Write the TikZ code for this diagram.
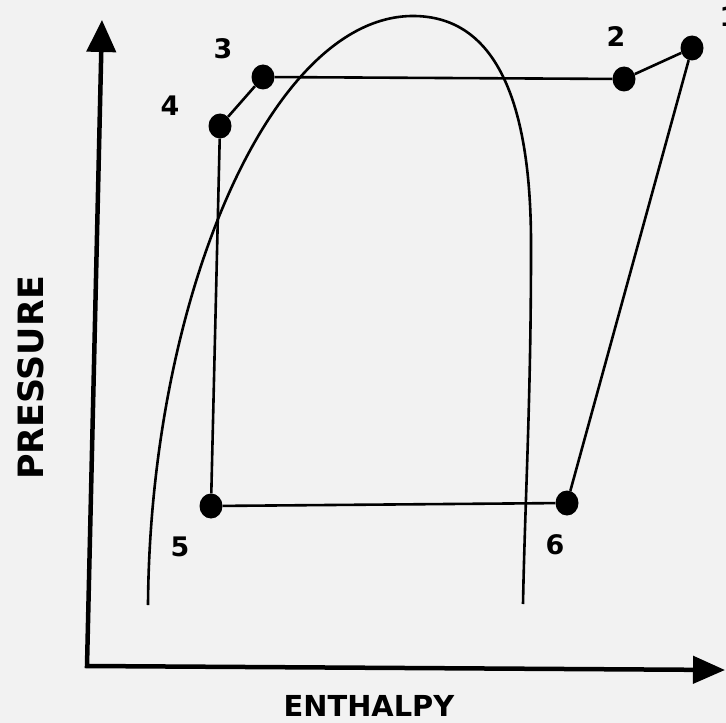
\documentclass[tikz,border=0pt]{standalone}
\usepackage{fontspec}
\newfontfamily\diagramfont{DejaVu Sans}
\usetikzlibrary{arrows.meta,shapes.geometric}

\begin{document}
\begin{tikzpicture}[
  x=1bp,
  y=-1bp,
  axisline/.style={
    draw=black,
    line width=4.5bp
  },
  cycleline/.style={
    draw=black,
    line width=2.6bp
  },
  domeline/.style={
    draw=black,
    line width=2.6bp
  },
  statepoint/.style={
    fill=black,
    draw=none,
    ellipse,
    minimum width=23bp,
    minimum height=25bp,
    inner sep=0pt
  },
  pointlabel/.style={
    font=\diagramfont\bfseries\fontsize{27}{30}\selectfont,
    inner sep=0pt
  },
  axislabel/.style={
    font=\diagramfont\bfseries\fontsize{29}{32}\selectfont,
    inner sep=0pt
  }
]

\fill[white!95!black] (0,0) rectangle (726,723);
\useasboundingbox (0,0) rectangle (726,723);

\coordinate (origin) at (87,666);
\coordinate (ytip) at (102,20);
\coordinate (xtip) at (725,670);
\draw[axisline, {Triangle[length=32bp,width=29bp]}-{Triangle[length=32bp,width=27bp]}]
  (ytip) -- (origin) -- (xtip);

\coordinate (domeleft) at (148,605);
\coordinate (dometop) at (413,16);
\coordinate (domeright) at (523,604);
\draw[domeline] (domeleft) .. controls (150,300) and (270,16) .. (dometop)
  .. controls (490,16) and (532,90) .. (531,250)
  .. controls (531,400) and (525,500) .. (domeright);

\foreach \name/\px/\py in {1/692/48, 2/624/79, 3/263/77, 4/220/126, 5/211/506, 6/567/503}
  \node[statepoint] (p\name) at (\px,\py) {};

\draw[cycleline] (p1) -- (p2) -- (p3) -- (p4) -- (p5) -- (p6) -- (p1);

\foreach \name/\lx/\ly in {1/729/17, 2/616/37, 3/223/49, 4/170/106, 5/180/547, 6/555/545}
  \node[pointlabel] (l\name) at (\lx,\ly) {\name};

\node[axislabel] (xlabel) at (369,706) {ENTHALPY};
\node[axislabel, rotate=90, font=\diagramfont\bfseries\fontsize{35}{38}\selectfont] (ylabel) at (31,378) {PRESSURE};

\end{tikzpicture}
\end{document}
